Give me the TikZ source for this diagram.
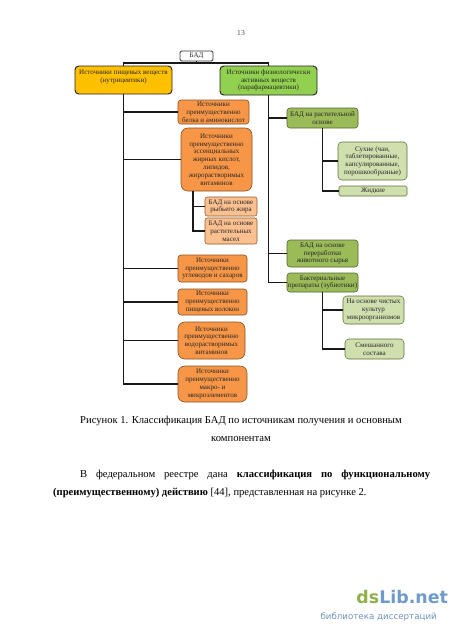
\documentclass[tikz,border=0pt]{standalone}
\usepackage{fontspec}
\setmainfont{Liberation Serif}
\newfontfamily\wmfont{DejaVu Sans}
\definecolor{cyel}{HTML}{FFC000}
\definecolor{cgrn}{HTML}{92D050}
\definecolor{cora}{HTML}{F79646}
\definecolor{clor}{HTML}{FAC090}
\definecolor{colv}{HTML}{9BBB59}
\definecolor{clgr}{HTML}{CFDFAE}
\definecolor{wmg}{HTML}{8FB14B}
\definecolor{wmb}{HTML}{6E9BCB}
\definecolor{wmt}{HTML}{6F93BE}
\tikzset{
  conn/.style={line width=1.9pt, black!90},
  basebox/.style={inner sep=0pt, align=center, font=\fontsize{9.3}{10.3}\selectfont, text=black!85},
  badbox/.style={basebox, fill=white, draw=black!80, line width=1pt, rounded corners=2pt},
  yelbox/.style={basebox, fill=cyel, draw=black!85, line width=1.3pt, rounded corners=5pt},
  grnbox/.style={basebox, fill=cgrn, draw=black!85, line width=1.3pt, rounded corners=5pt},
  orbox/.style={basebox, fill=cora, draw=cora!55!black, line width=0.8pt, rounded corners=4pt},
  orbigbox/.style={orbox, rounded corners=9pt},
  lorbox/.style={basebox, fill=clor, draw=cora!60!black, line width=0.7pt, rounded corners=3pt},
  olvbox/.style={basebox, fill=colv, draw=colv!55!black, line width=0.8pt, rounded corners=4pt},
  lgrbox/.style={basebox, fill=clgr, draw=colv!60!black, line width=0.7pt, rounded corners=5pt},
  lgrflat/.style={lgrbox, rounded corners=2pt},
  pagetext/.style={font=\fontsize{14}{17}\selectfont, inner sep=0pt},
}
\newcommand\mybox[7]{\node[#6, minimum width={(#4-#2)*1.3228pt}, minimum height={(#5-#3)*1.3228pt}] (#1) at ({(#2+#4)/2},{(#3+#5)/2}) {#7};}
\begin{document}
\begin{tikzpicture}[x=1.3228pt,y=-1.3228pt]
\fill[white] (0,0) rectangle (450,637);
\useasboundingbox (0,0) rectangle (450,637);

\node[font=\fontsize{10}{12}\selectfont, text=black!70, anchor=base] (pnum) at (241,35) {13};

% boxes
\mybox{bad}{180}{51}{213}{61}{badbox}{БАД}
\mybox{yel}{75}{66}{172}{94}{yelbox}{Источники пищевых веществ\\(нутрицевтики)\\\mbox{}}
\mybox{grn}{220}{66}{317}{95}{grnbox}{Источники физиологически\\активных веществ\\(парафармацевтики)}
\mybox{o1}{178}{100}{249}{124}{orbox}{Источники\\преимущественно\\белка и аминокислот}
\mybox{o2}{181}{128}{252}{191}{orbigbox}{Источники\\преимущественно\\эссенциальных\\жирных кислот,\\липидов,\\жирорастворимых\\витаминов}
\mybox{s1}{205}{197}{257}{216}{lorbox}{БАД на основе\\рыбьего жира}
\mybox{s2}{205}{218}{257}{244}{lorbox}{БАД на основе\\растительных\\масел}
\mybox{o3}{178}{255}{247}{282}{orbox}{Источники\\преимущественно\\углеводов и сахаров}
\mybox{o4}{178}{289}{247}{315}{orbox}{Источники\\преимущественно\\пищевых волокон}
\mybox{o5}{178}{322}{245}{359}{orbigbox}{Источники\\преимущественно\\водорастворимых\\витаминов}
\mybox{o6}{178}{366}{247}{402}{orbigbox}{Источники\\преимущественно\\макро- и\\микроэлементов}
\mybox{g1}{287}{108}{358}{128}{olvbox}{БАД на растительной\\основе}
\mybox{dry}{338}{142}{407}{180}{lgrbox}{Сухие (чаи,\\таблетированные,\\капсулированные,\\порошкообразные)}
\mybox{liq}{339}{186}{407}{196}{lgrflat}{Жидкие}
\mybox{g2}{287}{240}{358}{267}{olvbox}{БАД на основе\\переработки\\животного сырья}
\mybox{g3}{287}{273}{358}{292}{olvbox}{Бактериальные\\препараты (эубиотики)}
\mybox{pure}{343}{296}{404}{324}{lgrbox}{На основе чистых\\культур\\микроорганизмов}
\mybox{mix}{345}{339}{404}{359}{lgrbox}{Смешанного\\состава}

% connectors
\coordinate (hb) at (196,63);
\draw[conn] (yel.north) -- (yel.north |- hb) -- (grn.north |- hb) -- (grn.north);
\draw[conn] (bad.south) -- (bad.south |- hb);
\foreach \t in {o1,o2,o3,o4,o5,o6} \draw[conn] (yel.south) |- (\t.west);
\coordinate (o2j) at (193,191);
\draw[conn] (o2j) |- (s1.west);
\draw[conn] (o2j) |- (s2.west);
\foreach \t in {g1,g2,g3} \draw[conn] (grn.south) |- (\t.west);
\draw[conn] (g1.south) |- (dry.west);
\draw[conn] (g1.south) |- (liq.west);
\draw[conn] (g3.south) |- (pure.west);
\draw[conn] (g3.south) |- (mix.west);

% caption and text
\node[pagetext, anchor=base] (cap1) at (241,423) {Рисунок 1. Классификация БАД по источникам получения и основным};
\node[pagetext, anchor=base] (cap2) at (241,441) {компонентам};
\node[pagetext, anchor=base west] (par1) at (80,477) {\makebox[463pt][s]{В федеральном реестре дана \textbf{классификация по функциональному}}};
\node[pagetext, anchor=base west] (par2) at (53,495) {\textbf{(преимущественному) действию} [44], представленная на рисунке 2.};

% watermark
\node[anchor=base east, inner sep=0pt, font=\wmfont\bfseries\fontsize{23}{23}\selectfont] (wm1) at (448,603) {\textcolor{wmg}{ds}\textcolor{wmb}{Lib.net}};
\node[anchor=base east, inner sep=0pt, font=\wmfont\fontsize{11.5}{12}\selectfont, text=wmt] (wm2) at (437,619) {библиотека диссертаций};
\end{tikzpicture}
\end{document}
